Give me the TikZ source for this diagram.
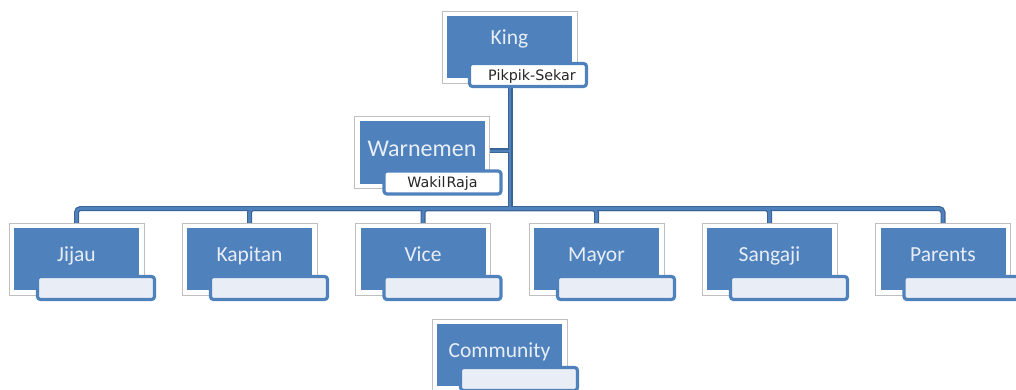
\documentclass[tikz,border=0pt]{standalone}
\usepackage{fontspec}
\setmainfont{Carlito}
\newfontfamily\labfont{DejaVu Sans}
\definecolor{obl}{HTML}{4F81BD}
\definecolor{odk}{HTML}{3A6496}
\definecolor{otx}{HTML}{E8EEF6}
\definecolor{olab}{HTML}{E9EEF6}
\definecolor{ofr}{HTML}{BFBFBF}
\tikzset{
  framebox/.style={draw=ofr, fill=white, line width=0.8pt, minimum width=135pt, minimum height=72pt, inner sep=0pt},
  bluebox/.style={fill=obl, minimum width=125pt, minimum height=62pt, inner sep=0pt},
  maintext/.style={text=otx, font=\fontsize{21.5}{24}\selectfont, anchor=base, inner sep=0pt},
  labbox/.style={draw=obl, line width=3.2pt, rounded corners=3pt, minimum width=117pt, minimum height=23pt, inner sep=0pt},
  labtext/.style={text=black!85, font=\labfont\fontsize{14.3}{16}\selectfont, anchor=base, inner sep=0pt},
  connout/.style={draw=odk, line width=5pt, rounded corners=4pt},
  connin/.style={draw=obl, line width=2.6pt, rounded corners=4pt}
}
\newcommand{\orgunit}[6]{% name, cx, frame top, text, text baseline offset, label top offset
  \node[framebox] (#1F) at (#2, #3+36) {};
  \node[bluebox] (#1) at (#2, #3+36) {};
  \node[maintext] (#1T) at (#2, #3+#5) {#4};
  \node[labbox, fill=olab] (#1L) at (#2+19.5, #3+#6+13) {};
}
\begin{document}
\begin{tikzpicture}[x=1pt, y=-1pt]
\useasboundingbox (0,0) rectangle (1016,390);
% anchor coordinates for the connector tree
\coordinate (hub) at (510,208.5);
\coordinate (kingC) at (510,50);
\coordinate (warnC) at (422,151);
\coordinate (d1) at (76.5,224);
\coordinate (d2) at (249.5,224);
\coordinate (d3) at (423,224);
\coordinate (d4) at (596.5,224);
\coordinate (d5) at (769.5,224);
\coordinate (d6) at (943,224);
% connectors (two passes: outline then fill)
\foreach \st in {connout,connin}{
  \draw[\st] (kingC) -- (hub);
  \draw[\st] (warnC) -- (warnC -| hub);
  \foreach \d in {d1,d2,d3,d4,d5,d6}{
    \draw[\st] (hub) -| (\d);
  }
}
% King
\node[framebox] (kingF) at (509.5,47) {};
\node[bluebox] (king) at (509.5,47) {};
\node[maintext] (kingT) at (509.5,45) {King};
\node[labbox, fill=white] (kingL) at (528,75) {};
\node[labtext] (kingLT) at (532,81) {Pikpik-Sekar};
% Warnemen
\node[framebox] (warnF) at (422,152.5) {};
\node[bluebox] (warn) at (422,152.5) {};
\node[maintext, font=\fontsize{24}{27}\selectfont] (warnT) at (422,156.5) {Warnemen};
\node[labbox, fill=white] (warnL) at (442.5,182.5) {};
\node[labtext] (warnLT) at (442.5,187) {Wakil\kern1pt Raja};
% bottom row
\orgunit{jijau}{76.5}{223}{Jijau}{38}{52}
\orgunit{kapitan}{249.5}{223}{Kapitan}{38}{52}
\orgunit{vice}{423}{223}{Vice}{38}{52}
\orgunit{mayor}{596.5}{223}{Mayor}{38}{52}
\orgunit{sangaji}{769.5}{223}{Sangaji}{38}{52}
\orgunit{parents}{943}{223}{Parents}{38}{52}
% Community
\orgunit{community}{499.5}{319}{Community}{38}{47}
\end{tikzpicture}
\end{document}
